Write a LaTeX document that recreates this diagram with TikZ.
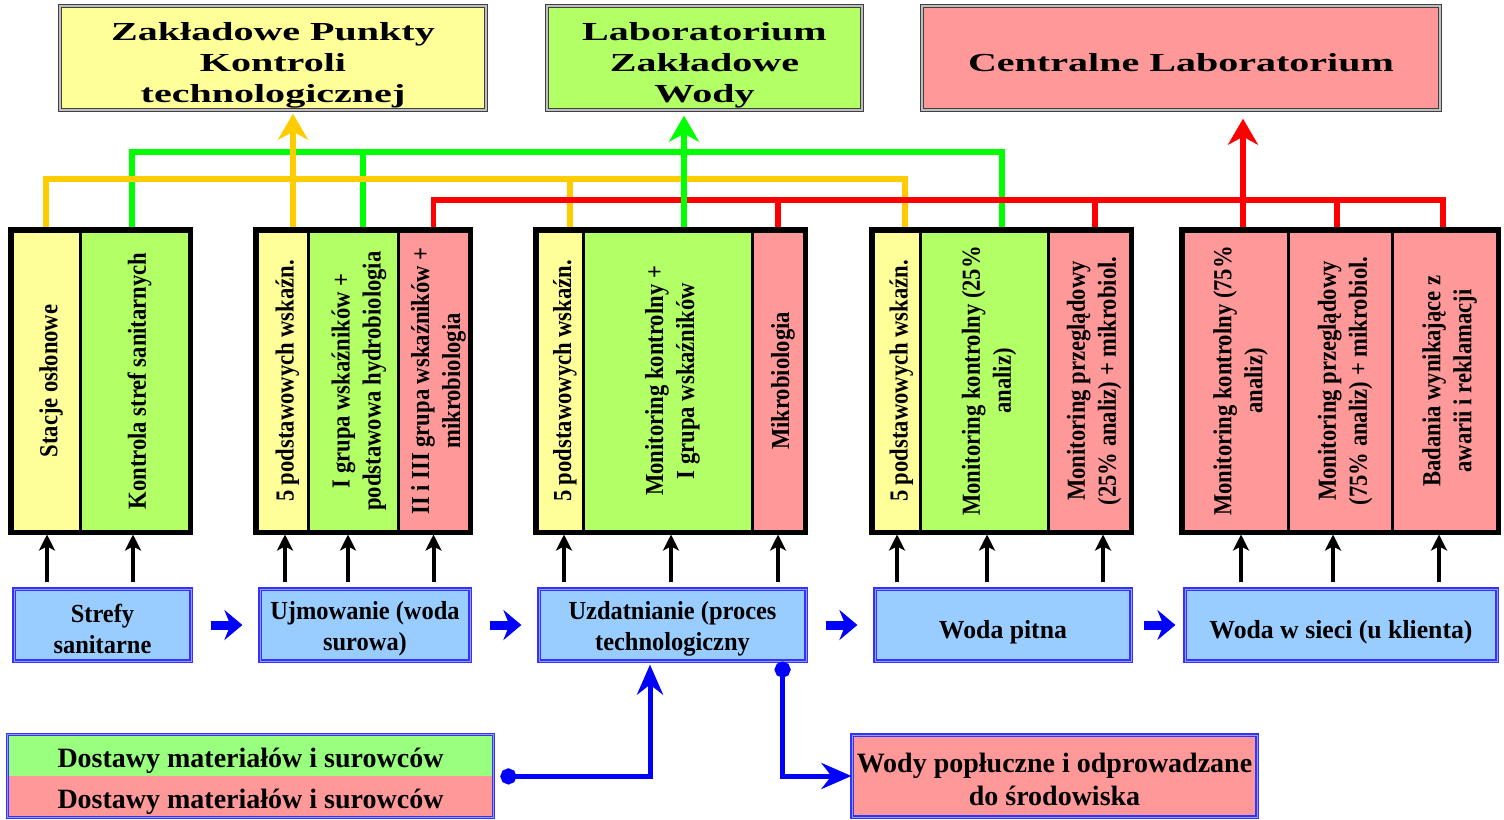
\documentclass[tikz,border=0pt]{standalone}
\usepackage{fontspec}
\setmainfont{Liberation Serif}
\newfontfamily\condf{Liberation Serif}[FakeStretch=0.87]
\newfontfamily\boxf{Liberation Serif}[FakeStretch=0.94]
\newfontfamily\boxwf{Liberation Serif}[FakeStretch=0.99]
\newfontfamily\widef{Liberation Serif}[FakeStretch=1.54]
\usetikzlibrary{arrows.meta,calc}
\definecolor{cyel}{HTML}{FFFF99}
\definecolor{cgrn}{HTML}{B3FF66}
\definecolor{cpnk}{HTML}{FF9999}
\definecolor{cbox}{HTML}{99CCFF}
\definecolor{cbord}{HTML}{3333FF}
\definecolor{cbordl}{HTML}{9999FF}
\definecolor{cdgrn}{HTML}{99FF7F}
\definecolor{corange}{HTML}{FFCC00}
\definecolor{cgline}{HTML}{00FF00}
\definecolor{crline}{HTML}{FF0000}
\definecolor{cblue}{HTML}{0000FF}
\begin{document}
\begin{tikzpicture}[x=0.5pt,y=-0.5pt,
  topbox/.style={draw=black!75, double=black!25, double distance=0.6pt, line width=0.7pt,
    minimum height=52pt, inner sep=0pt},
  toptext/.style={inner sep=0pt, align=center,
    font=\widef\bfseries\fontsize{13}{15.5}\selectfont},
  cell/.style={draw=black, line width=1.5pt, inner sep=0pt, minimum height=150pt},
  grp/.style={draw=black, line width=2.3pt},
  ctext/.style={rotate=90, align=center, inner sep=0pt,
    font=\condf\bfseries\fontsize{13}{15.5}\selectfont},
  bbox/.style={draw=cbord, double=cbordl, double distance=0.5pt, line width=0.6pt,
    fill=cbox, minimum height=36pt, inner sep=0pt},
  btext/.style={inner sep=0pt, align=center,
    font=\boxf\bfseries\fontsize{13}{15.5}\selectfont},
  btextw/.style={btext, font=\boxwf\bfseries\fontsize{13}{15.5}\selectfont},
  dtext/.style={inner sep=0pt, align=center,
    font=\bfseries\fontsize{14}{16.5}\selectfont},
  orl/.style={draw=corange, line width=2.6pt},
  grl/.style={draw=cgline, line width=2.6pt},
  rdl/.style={draw=crline, line width=2.6pt},
  uptip/.style={-{Stealth[length=13pt,width=15pt,inset=4pt]}},
  blk/.style={draw=black, line width=2pt, -{Stealth[length=8pt,width=8pt,inset=2pt]},
    shorten <=3pt, shorten >=1pt},
  chev/.style={draw=cblue, line width=4.5pt, -{Stealth[length=9pt,width=15pt,inset=3pt]}},
  bluel/.style={draw=cblue, line width=2.5pt},
  dotstart/.style={{Circle[length=8pt]}-{Stealth[length=15pt,width=13pt,inset=5pt]}},
]
\useasboundingbox (0,0) rectangle (1504,819);

% ---------- top boxes ----------
\node[topbox, fill=cyel, minimum width=213pt]   (top1) at (273,58) {};
\node[topbox, fill=cgrn, minimum width=157.5pt] (top2) at (704.5,58) {};
\node[topbox, fill=cpnk, minimum width=259pt]   (top3) at (1181,58) {};
\node[toptext] (tt1) at ($(top1)+(0,7)$) {Zakładowe Punkty\\Kontroli\\technologicznej};
\node[toptext] (tt2) at ($(top2)+(0,7)$) {Laboratorium\\Zakładowe\\Wody};
\node[toptext] (tt3) at ($(top3)+(0,5)$) {Centralne Laboratorium};

% ---------- column cell centres ----------
\path
  (46,381) coordinate (p1a) (134.5,381) coordinate (p1b)
  (282.5,381) coordinate (p2a) (353,381) coordinate (p2b) (433.5,381) coordinate (p2c)
  (560,381) coordinate (p3a) (667.5,381) coordinate (p3b) (778,381) coordinate (p3c)
  (896.5,381) coordinate (p4a) (984,381) coordinate (p4b) (1089,381) coordinate (p4c)
  (1235.5,381) coordinate (p5a) (1340,381) coordinate (p5b) (1444.5,381) coordinate (p5c);

\path
  node[cell, draw=none, minimum width=34pt]   (c1a) at (p1a) {}
  node[cell, draw=none, minimum width=54.5pt] (c1b) at (p1b) {}
  node[cell, draw=none, minimum width=25.5pt] (c2a) at (p2a) {}
  node[cell, draw=none, minimum width=45pt]   (c2b) at (p2b) {}
  node[cell, draw=none, minimum width=35.5pt] (c2c) at (p2c) {}
  node[cell, draw=none, minimum width=23pt]   (c3a) at (p3a) {}
  node[cell, draw=none, minimum width=84.5pt] (c3b) at (p3b) {}
  node[cell, draw=none, minimum width=26pt]   (c3c) at (p3c) {}
  node[cell, draw=none, minimum width=23.5pt] (c4a) at (p4a) {}
  node[cell, draw=none, minimum width=64pt]   (c4b) at (p4b) {}
  node[cell, draw=none, minimum width=41pt]   (c4c) at (p4c) {}
  node[cell, draw=none, minimum width=52.5pt] (c5a) at (p5a) {}
  node[cell, draw=none, minimum width=52pt]   (c5b) at (p5b) {}
  node[cell, draw=none, minimum width=52.5pt] (c5c) at (p5c) {};

% ---------- bus tap points ----------
\coordinate (o1) at (c1a.north);
\coordinate (o2) at ($(c2a.north)+(10.5,0)$);
\coordinate (o3) at ($(c3a.north)+(10,0)$);
\coordinate (o4) at ($(c4a.north)+(8.5,0)$);
\coordinate (g1) at ($(c1b.north)+(-2.5,0)$);
\coordinate (g2) at ($(c2b.north)+(10,0)$);
\coordinate (g3) at ($(c3b.north)+(16.5,0)$);
\coordinate (g4) at ($(c4b.north)+(18,0)$);
\coordinate (r1) at (c2c.north);
\coordinate (r2) at (c3c.north);
\coordinate (r3) at ($(c4c.north)+(6,0)$);
\coordinate (r4) at ($(c5a.north)+(7.5,0)$);
\coordinate (r5) at ($(c5b.north)+(-3,0)$);
\coordinate (r6) at ($(c5c.north)+(-1.5,0)$);
\coordinate (yG) at (0,152);
\coordinate (yO) at (0,179);
\coordinate (yR) at (0,200);

% green bus
\draw[grl] (g1) |- (yG -| g4) -- (g4);
\draw[grl] (g2) -- (g2 |- yG);
% orange bus
\draw[orl] (o1) |- (yO -| o4) -- (o4);
\draw[orl] (o3) -- (o3 |- yO);
% red bus
\draw[rdl] (r1) |- (yR -| r6) -- (r6);
\draw[rdl] (r2) -- (r2 |- yR);
\draw[rdl] (r3) -- (r3 |- yR);
\draw[rdl] (r5) -- (r5 |- yR);
% arrows to top boxes
\draw[orl, uptip, shorten >=1.5pt] (o2) -- (o2 |- top1.south);
\draw[grl, uptip, shorten >=2.5pt] (g3) -- (g3 |- top2.south);
\draw[rdl, uptip, shorten >=4pt] (r4) -- (r4 |- top3.south);

% visible cells
\node[cell, fill=cyel, minimum width=34pt]   at (p1a) {};
\node[cell, fill=cgrn, minimum width=54.5pt] at (p1b) {};
\node[cell, fill=cyel, minimum width=25.5pt] at (p2a) {};
\node[cell, fill=cgrn, minimum width=45pt]   at (p2b) {};
\node[cell, fill=cpnk, minimum width=35.5pt] at (p2c) {};
\node[cell, fill=cyel, minimum width=23pt]   at (p3a) {};
\node[cell, fill=cgrn, minimum width=84.5pt] at (p3b) {};
\node[cell, fill=cpnk, minimum width=26pt]   at (p3c) {};
\node[cell, fill=cyel, minimum width=23.5pt] at (p4a) {};
\node[cell, fill=cgrn, minimum width=64pt]   at (p4b) {};
\node[cell, fill=cpnk, minimum width=41pt]   at (p4c) {};
\node[cell, fill=cpnk, minimum width=52.5pt] at (p5a) {};
\node[cell, fill=cpnk, minimum width=52pt]   at (p5b) {};
\node[cell, fill=cpnk, minimum width=52.5pt] at (p5c) {};

\draw[grp] (c1a.north west) rectangle (c1b.south east);
\draw[grp] (c2a.north west) rectangle (c2c.south east);
\draw[grp] (c3a.north west) rectangle (c3c.south east);
\draw[grp] (c4a.north west) rectangle (c4c.south east);
\draw[grp] (c5a.north west) rectangle (c5c.south east);

% column texts
\node[ctext] (t1a) at ($(c1a)+(5,0)$) {Stacje osłonowe};
\node[ctext] (t1b) at ($(c1b)+(5,0)$) {Kontrola stref sanitarnych};
\node[ctext] (t2a) at ($(c2a)+(5,0)$) {5 podstawowych wskaźn.};
\node[ctext] (t2b) at ($(c2b)+(6,0)$) {I grupa wskaźników +\\podstawowa hydrobiologia};
\node[ctext] (t2c) at ($(c2c)+(5,0)$) {II i III grupa wskaźników +\\mikrobiologia};
\node[ctext] (t3a) at ($(c3a)+(5,0)$) {5 podstawowych wskaźn.};
\node[ctext] (t3b) at ($(c3b)+(5,0)$) {Monitoring kontrolny +\\I grupa wskaźników};
\node[ctext] (t3c) at ($(c3c)+(5,0)$) {Mikrobiologia};
\node[ctext] (t4a) at ($(c4a)+(5,0)$) {5 podstawowych wskaźn.};
\node[ctext] (t4b) at ($(c4b)+(5,0)$) {Monitoring kontrolny (25\%\\analiz)};
\node[ctext] (t4c) at ($(c4c)+(5,0)$) {Monitoring przeglądowy\\(25\% analiz) + mikrobiol.};
\node[ctext] (t5a) at ($(c5a)+(5,0)$) {Monitoring kontrolny (75\%\\analiz)};
\node[ctext] (t5b) at ($(c5b)+(5,0)$) {Monitoring przeglądowy\\(75\% analiz) + mikrobiol.};
\node[ctext] (t5c) at ($(c5c)+(5,0)$) {Badania wynikające z\\awarii i reklamacji};

% ---------- blue process boxes ----------
\node[bbox, minimum width=88.5pt]  (b1) at (102.5,625) {};
\node[bbox, minimum width=105pt]   (b2) at (365,625)   {};
\node[bbox, minimum width=133.5pt] (b3) at (672.5,625) {};
\node[bbox, minimum width=128pt]   (b4) at (1003,625)  {};
\node[bbox, minimum width=156pt]   (b5) at (1341,625)  {};
\node[btext]  (bt1) at ($(b1)+(0,4)$) {Strefy\\sanitarne};
\node[btext]  (bt2) at ($(b2)+(0,4)$) {Ujmowanie (woda\\surowa)};
\node[btext]  (bt3) at ($(b3)+(0,4)$) {Uzdatnianie (proces\\technologiczny};
\node[btextw] (bt4) at ($(b4)+(0,7)$) {Woda pitna};
\node[btextw] (bt5) at ($(b5)+(0,7)$) {Woda w sieci (u klienta)};

% chevrons
\draw[chev, shorten <=9.5pt, shorten >=8.5pt] (b1.east) -- (b2.west);
\draw[chev, shorten <=9.5pt, shorten >=8.5pt] (b2.east) -- (b3.west);
\draw[chev, shorten <=9.5pt, shorten >=8.5pt] (b3.east) -- (b4.west);
\draw[chev, shorten <=6pt, shorten >=4.5pt] (b4.east) -- (b5.west);

% black arrows up
\foreach \b/\c/\d in {b1/c1a/1,b1/c1b/-1.5,b2/c2a/2.5,b2/c2b/-5,b2/c2c/0,
                      b3/c3a/4,b3/c3b/3.5,b3/c3c/0,b4/c4a/0.5,b4/c4b/3,b4/c4c/14,
                      b5/c5a/5.5,b5/c5b/-7,b5/c5c/-5.5}
  \draw[blk] ($(\b.north -| \c.south)+(\d,0)$) -- ($(\c.south)+(\d,0)$);

% ---------- bottom boxes ----------
\node[fill=cdgrn, minimum width=242.5pt, minimum height=20.5pt, inner sep=0pt] (dost1) at (250.5,755.5) {};
\node[fill=cpnk,  minimum width=242.5pt, minimum height=20.5pt, inner sep=0pt] (dost2) at (250.5,796.5) {};
\draw[draw=cbord, double=cbordl, double distance=0.5pt, line width=0.6pt]
  (dost1.north west) rectangle (dost2.south east);
\node[dtext] (dt1) at ($(dost1)+(0,5)$) {Dostawy materiałów i surowców};
\node[dtext] (dt2) at ($(dost2)+(0,5)$) {Dostawy materiałów i surowców};

\node[fill=cpnk, draw=cbord, double=cbordl, double distance=0.5pt, line width=0.6pt,
  minimum width=202.5pt, minimum height=41pt, inner sep=0pt] (wody) at (1054.5,776) {};
\node[dtext] (wt) at ($(wody)+(0,3)$) {Wody popłuczne i odprowadzane\\do środowiska};

% blue connectors
\coordinate (dd) at ($(dost1.south east)+(7,0)$);
\coordinate (ds) at ($(b3.south east)+(-24,0)$);
\draw[bluel, dotstart, shorten >=1.5pt] (dd) -| ($(b3.south)+(-22.5,0)$);
\draw[bluel, dotstart] (ds) |- (wody.west);
\end{tikzpicture}
\end{document}
